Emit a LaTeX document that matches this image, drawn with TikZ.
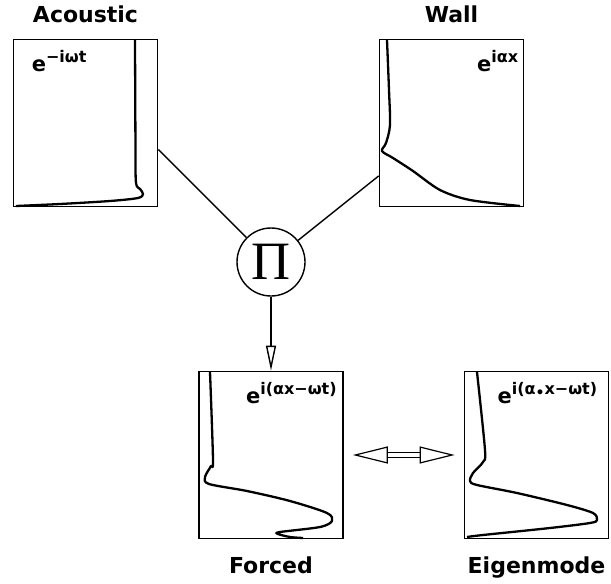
\documentclass[tikz,border=0pt]{standalone}
\usepackage{fontspec}
\setmainfont{DejaVu Sans}
\newfontfamily\pifont{Liberation Serif}
\usetikzlibrary{arrows.meta}

\newcommand{\expo}[1]{e\raisebox{0.42em}{\fontsize{16}{16}\selectfont #1}}

\tikzset{
  plotbox/.style={draw, line width=1.7pt, minimum width=144pt, minimum height=167pt, inner sep=0pt},
  title/.style={font=\fontsize{22}{22}\selectfont\bfseries, anchor=base},
  expolabel/.style={font=\fontsize{21}{21}\selectfont\bfseries, inner sep=0pt},
  profile/.style={line width=2.3pt, line join=round},
  link/.style={line width=1.4pt},
}

\begin{document}
\begin{tikzpicture}[x=1pt, y=-1pt]
  \useasboundingbox (0,0) rectangle (611,584);

  % boxes
  \node[plotbox] (acoustic) at (85.5,123) {};
  \node[plotbox] (wall) at (451.5,123) {};
  \node[plotbox] (forced) at (271,455) {};
  \node[plotbox] (eigen) at (536.5,455) {};
  \node[draw, circle, line width=1.4pt, minimum size=68pt, inner sep=0pt] (prod) at (271,262)
    {\fontsize{54}{54}\selectfont\pifont Π};

  % titles
  \node[title] (actitle) at ([yshift=16pt]acoustic.north) {Acoustic};
  \node[title] (walltitle) at ([yshift=16pt]wall.north) {Wall};
  \node[title] (forcedtitle) at ([yshift=-34pt]forced.south) {Forced};
  \node[title] (eigentitle) at ([yshift=-34pt]eigen.south) {Eigenmode};

  % exponentials
  \node[expolabel, anchor=base west] (acexp) at ([xshift=19pt,yshift=-33pt]acoustic.north west) {\expo{−iωt}};
  \node[expolabel, anchor=base east] (wallexp) at ([xshift=-6pt,yshift=-33pt]wall.north east) {\expo{iαx}};
  \node[expolabel, anchor=base east] (forcedexp) at ([xshift=-7pt,yshift=-33pt]forced.north east) {\expo{i(αx−ωt)}};
  \node[expolabel, anchor=base east] (eigenexp) at ([xshift=-12pt,yshift=-33pt]eigen.north east)
    {\expo{i(α\raisebox{-3pt}{\fontsize{14}{14}\selectfont •}x−ωt)}};

  % profiles
  \draw[profile] plot[smooth, tension=0.5] coordinates {(135,40) (135.5,150) (136,183) (140,189) (143,194) (138,198) (110,201) (60,204) (16,206)};
  \draw[profile] plot[smooth, tension=0.5] coordinates {(387,40) (389,90) (390,125) (386,143) (382,151) (393,158) (413,171) (440,190) (470,200) (520,206)};
  \draw[profile] plot[smooth, tension=0.5] coordinates {(210,372) (213,460) (211,466) (205,477) (209,484) (247,491) (290,501) (327,513) (332,521) (320,527) (280,532) (278,534) (290,537) (303,538)};
  \draw[profile] plot[smooth, tension=0.5] coordinates {(477,372) (485,450) (483,462) (473,473) (470,481) (477,485) (517,493) (567,505) (593,513) (597,520) (590,523) (550,528) (483,535) (467,537)};

  % connectors
  \draw[link] (acoustic.-20) -- (prod);
  \draw[link] (wall.216) -- (prod);
  \draw[link, -{Triangle[open, length=25pt, width=10pt]}] (prod) -- (forced);
  \draw[line width=1.2pt, double, double distance=3.5pt,
        {Triangle[open, length=35pt, width=17pt]}-{Triangle[open, length=35pt, width=17pt]},
        shorten <=9pt, shorten >=9pt] (forced) -- (eigen);
\end{tikzpicture}
\end{document}
